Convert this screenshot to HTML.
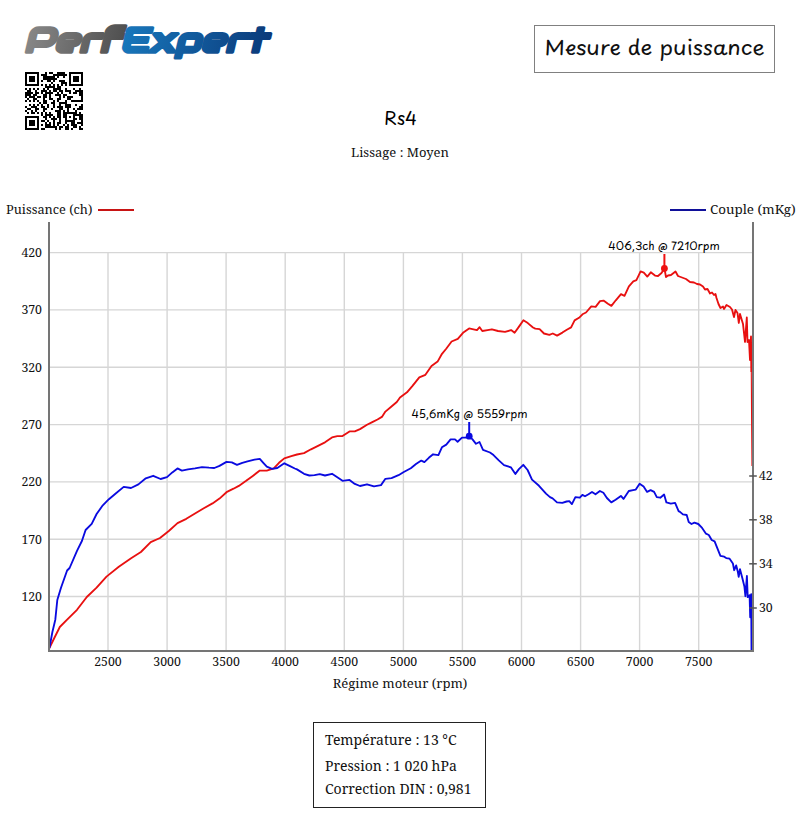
<!DOCTYPE html>
<html><head><meta charset="utf-8"><title>Mesure de puissance</title>
<style>
html,body{margin:0;padding:0;background:#fff;}
body{width:800px;height:833px;overflow:hidden;position:relative;}
.logo{position:absolute;left:0;top:0;}
.logo text{font-family:"Audiowide","Liberation Sans",sans-serif;}
.qr{position:absolute;left:25px;top:72px;}
.tbox{position:absolute;left:534px;top:25px;width:239px;height:46px;border:1px solid #808080;}
.tbox span{position:absolute;left:0;width:239px;top:5.5px;text-align:center;font-family:"Playpen Sans","Liberation Sans",sans-serif;font-size:22.3px;font-weight:400;line-height:30px;color:#111;white-space:nowrap;transform:scaleY(0.9);}
.rs4{position:absolute;left:300.5px;width:200px;top:105.5px;text-align:center;font-family:"Playpen Sans","Liberation Sans",sans-serif;font-size:18px;font-weight:400;line-height:24px;color:#000;}
.chart{position:absolute;left:0;top:0;}
.chart text{font-family:"Noto Serif","DejaVu Serif","Liberation Serif",serif;font-size:12.75px;fill:#111;}
.chart text.n{font-size:12.3px;}
.chart text.ann{font-family:"Playpen Sans","Liberation Sans",sans-serif;font-size:11.3px;font-weight:400;fill:#000;}
.info{position:absolute;left:313px;top:722px;width:171px;height:84px;border:1px solid #222;font-family:"Noto Serif","DejaVu Serif","Liberation Serif",serif;font-size:14px;color:#111;}
.info div{position:absolute;left:11px;white-space:nowrap;line-height:20px;}
</style></head><body>
<svg class="logo" width="300" height="70"><defs><linearGradient id="gp" x1="0" y1="0" x2="84.3" y2="0" gradientUnits="userSpaceOnUse"><stop offset="0" stop-color="#878787"/><stop offset="1" stop-color="#505050"/></linearGradient><linearGradient id="ge" x1="84.3" y1="0" x2="213.6" y2="0" gradientUnits="userSpaceOnUse"><stop offset="0" stop-color="#1877bb"/><stop offset="1" stop-color="#0b3a7a"/></linearGradient></defs><text transform="translate(24,51.6) scale(1.14,1.04) skewX(-12)" font-size="33" stroke-width="3.4" stroke-linejoin="round"><tspan fill="url(#gp)" stroke="url(#gp)">Perf</tspan><tspan fill="url(#ge)" stroke="url(#ge)">Expert</tspan></text></svg>
<svg class="qr" width="58" height="58" viewBox="0 0 29 29" shape-rendering="crispEdges"><path d="M0 0h1v1h-1zM1 0h1v1h-1zM2 0h1v1h-1zM3 0h1v1h-1zM4 0h1v1h-1zM5 0h1v1h-1zM6 0h1v1h-1zM10 0h1v1h-1zM12 0h1v1h-1zM13 0h1v1h-1zM16 0h1v1h-1zM17 0h1v1h-1zM18 0h1v1h-1zM19 0h1v1h-1zM22 0h1v1h-1zM23 0h1v1h-1zM24 0h1v1h-1zM25 0h1v1h-1zM26 0h1v1h-1zM27 0h1v1h-1zM28 0h1v1h-1zM0 1h1v1h-1zM6 1h1v1h-1zM8 1h1v1h-1zM9 1h1v1h-1zM10 1h1v1h-1zM14 1h1v1h-1zM15 1h1v1h-1zM16 1h1v1h-1zM17 1h1v1h-1zM18 1h1v1h-1zM19 1h1v1h-1zM20 1h1v1h-1zM22 1h1v1h-1zM28 1h1v1h-1zM0 2h1v1h-1zM2 2h1v1h-1zM3 2h1v1h-1zM4 2h1v1h-1zM6 2h1v1h-1zM9 2h1v1h-1zM10 2h1v1h-1zM11 2h1v1h-1zM12 2h1v1h-1zM13 2h1v1h-1zM14 2h1v1h-1zM16 2h1v1h-1zM19 2h1v1h-1zM22 2h1v1h-1zM24 2h1v1h-1zM25 2h1v1h-1zM26 2h1v1h-1zM28 2h1v1h-1zM0 3h1v1h-1zM2 3h1v1h-1zM3 3h1v1h-1zM4 3h1v1h-1zM6 3h1v1h-1zM9 3h1v1h-1zM10 3h1v1h-1zM11 3h1v1h-1zM12 3h1v1h-1zM13 3h1v1h-1zM14 3h1v1h-1zM15 3h1v1h-1zM22 3h1v1h-1zM24 3h1v1h-1zM25 3h1v1h-1zM26 3h1v1h-1zM28 3h1v1h-1zM0 4h1v1h-1zM2 4h1v1h-1zM3 4h1v1h-1zM4 4h1v1h-1zM6 4h1v1h-1zM8 4h1v1h-1zM11 4h1v1h-1zM12 4h1v1h-1zM14 4h1v1h-1zM17 4h1v1h-1zM18 4h1v1h-1zM19 4h1v1h-1zM22 4h1v1h-1zM24 4h1v1h-1zM25 4h1v1h-1zM26 4h1v1h-1zM28 4h1v1h-1zM0 5h1v1h-1zM6 5h1v1h-1zM13 5h1v1h-1zM18 5h1v1h-1zM19 5h1v1h-1zM20 5h1v1h-1zM22 5h1v1h-1zM28 5h1v1h-1zM0 6h1v1h-1zM1 6h1v1h-1zM2 6h1v1h-1zM3 6h1v1h-1zM4 6h1v1h-1zM5 6h1v1h-1zM6 6h1v1h-1zM8 6h1v1h-1zM10 6h1v1h-1zM12 6h1v1h-1zM14 6h1v1h-1zM16 6h1v1h-1zM18 6h1v1h-1zM20 6h1v1h-1zM22 6h1v1h-1zM23 6h1v1h-1zM24 6h1v1h-1zM25 6h1v1h-1zM26 6h1v1h-1zM27 6h1v1h-1zM28 6h1v1h-1zM10 7h1v1h-1zM11 7h1v1h-1zM12 7h1v1h-1zM13 7h1v1h-1zM14 7h1v1h-1zM16 7h1v1h-1zM17 7h1v1h-1zM0 8h1v1h-1zM2 8h1v1h-1zM4 8h1v1h-1zM6 8h1v1h-1zM9 8h1v1h-1zM11 8h1v1h-1zM14 8h1v1h-1zM15 8h1v1h-1zM16 8h1v1h-1zM17 8h1v1h-1zM20 8h1v1h-1zM24 8h1v1h-1zM27 8h1v1h-1zM1 9h1v1h-1zM2 9h1v1h-1zM5 9h1v1h-1zM8 9h1v1h-1zM9 9h1v1h-1zM10 9h1v1h-1zM12 9h1v1h-1zM14 9h1v1h-1zM15 9h1v1h-1zM17 9h1v1h-1zM18 9h1v1h-1zM20 9h1v1h-1zM21 9h1v1h-1zM22 9h1v1h-1zM25 9h1v1h-1zM26 9h1v1h-1zM27 9h1v1h-1zM28 9h1v1h-1zM0 10h1v1h-1zM1 10h1v1h-1zM2 10h1v1h-1zM3 10h1v1h-1zM5 10h1v1h-1zM6 10h1v1h-1zM8 10h1v1h-1zM10 10h1v1h-1zM11 10h1v1h-1zM12 10h1v1h-1zM13 10h1v1h-1zM16 10h1v1h-1zM18 10h1v1h-1zM22 10h1v1h-1zM24 10h1v1h-1zM25 10h1v1h-1zM27 10h1v1h-1zM28 10h1v1h-1zM0 11h1v1h-1zM1 11h1v1h-1zM2 11h1v1h-1zM4 11h1v1h-1zM5 11h1v1h-1zM9 11h1v1h-1zM10 11h1v1h-1zM12 11h1v1h-1zM15 11h1v1h-1zM16 11h1v1h-1zM17 11h1v1h-1zM19 11h1v1h-1zM20 11h1v1h-1zM27 11h1v1h-1zM28 11h1v1h-1zM0 12h1v1h-1zM2 12h1v1h-1zM3 12h1v1h-1zM4 12h1v1h-1zM6 12h1v1h-1zM7 12h1v1h-1zM9 12h1v1h-1zM10 12h1v1h-1zM12 12h1v1h-1zM17 12h1v1h-1zM19 12h1v1h-1zM21 12h1v1h-1zM22 12h1v1h-1zM23 12h1v1h-1zM28 12h1v1h-1zM1 13h1v1h-1zM4 13h1v1h-1zM5 13h1v1h-1zM9 13h1v1h-1zM12 13h1v1h-1zM13 13h1v1h-1zM16 13h1v1h-1zM17 13h1v1h-1zM21 13h1v1h-1zM22 13h1v1h-1zM28 13h1v1h-1zM0 14h1v1h-1zM2 14h1v1h-1zM4 14h1v1h-1zM6 14h1v1h-1zM9 14h1v1h-1zM10 14h1v1h-1zM14 14h1v1h-1zM16 14h1v1h-1zM20 14h1v1h-1zM23 14h1v1h-1zM24 14h1v1h-1zM25 14h1v1h-1zM26 14h1v1h-1zM27 14h1v1h-1zM28 14h1v1h-1zM7 15h1v1h-1zM9 15h1v1h-1zM10 15h1v1h-1zM13 15h1v1h-1zM14 15h1v1h-1zM17 15h1v1h-1zM18 15h1v1h-1zM19 15h1v1h-1zM20 15h1v1h-1zM2 16h1v1h-1zM4 16h1v1h-1zM6 16h1v1h-1zM8 16h1v1h-1zM11 16h1v1h-1zM14 16h1v1h-1zM17 16h1v1h-1zM20 16h1v1h-1zM21 16h1v1h-1zM22 16h1v1h-1zM25 16h1v1h-1zM28 16h1v1h-1zM0 17h1v1h-1zM3 17h1v1h-1zM4 17h1v1h-1zM5 17h1v1h-1zM8 17h1v1h-1zM9 17h1v1h-1zM11 17h1v1h-1zM14 17h1v1h-1zM16 17h1v1h-1zM17 17h1v1h-1zM18 17h1v1h-1zM20 17h1v1h-1zM21 17h1v1h-1zM22 17h1v1h-1zM27 17h1v1h-1zM28 17h1v1h-1zM1 18h1v1h-1zM2 18h1v1h-1zM5 18h1v1h-1zM6 18h1v1h-1zM9 18h1v1h-1zM10 18h1v1h-1zM13 18h1v1h-1zM17 18h1v1h-1zM18 18h1v1h-1zM21 18h1v1h-1zM24 18h1v1h-1zM26 18h1v1h-1zM27 18h1v1h-1zM28 18h1v1h-1zM0 19h1v1h-1zM3 19h1v1h-1zM5 19h1v1h-1zM9 19h1v1h-1zM15 19h1v1h-1zM16 19h1v1h-1zM17 19h1v1h-1zM19 19h1v1h-1zM21 19h1v1h-1zM25 19h1v1h-1zM1 20h1v1h-1zM3 20h1v1h-1zM4 20h1v1h-1zM6 20h1v1h-1zM8 20h1v1h-1zM10 20h1v1h-1zM12 20h1v1h-1zM16 20h1v1h-1zM17 20h1v1h-1zM19 20h1v1h-1zM20 20h1v1h-1zM21 20h1v1h-1zM22 20h1v1h-1zM23 20h1v1h-1zM24 20h1v1h-1zM25 20h1v1h-1zM27 20h1v1h-1zM8 21h1v1h-1zM10 21h1v1h-1zM11 21h1v1h-1zM12 21h1v1h-1zM13 21h1v1h-1zM16 21h1v1h-1zM17 21h1v1h-1zM19 21h1v1h-1zM20 21h1v1h-1zM24 21h1v1h-1zM25 21h1v1h-1zM26 21h1v1h-1zM27 21h1v1h-1zM28 21h1v1h-1zM0 22h1v1h-1zM1 22h1v1h-1zM2 22h1v1h-1zM3 22h1v1h-1zM4 22h1v1h-1zM5 22h1v1h-1zM6 22h1v1h-1zM9 22h1v1h-1zM10 22h1v1h-1zM12 22h1v1h-1zM14 22h1v1h-1zM16 22h1v1h-1zM17 22h1v1h-1zM19 22h1v1h-1zM20 22h1v1h-1zM22 22h1v1h-1zM24 22h1v1h-1zM27 22h1v1h-1zM28 22h1v1h-1zM0 23h1v1h-1zM6 23h1v1h-1zM10 23h1v1h-1zM13 23h1v1h-1zM14 23h1v1h-1zM15 23h1v1h-1zM17 23h1v1h-1zM20 23h1v1h-1zM24 23h1v1h-1zM25 23h1v1h-1zM27 23h1v1h-1zM28 23h1v1h-1zM0 24h1v1h-1zM2 24h1v1h-1zM3 24h1v1h-1zM4 24h1v1h-1zM6 24h1v1h-1zM8 24h1v1h-1zM9 24h1v1h-1zM11 24h1v1h-1zM14 24h1v1h-1zM17 24h1v1h-1zM20 24h1v1h-1zM21 24h1v1h-1zM22 24h1v1h-1zM23 24h1v1h-1zM24 24h1v1h-1zM28 24h1v1h-1zM0 25h1v1h-1zM2 25h1v1h-1zM3 25h1v1h-1zM4 25h1v1h-1zM6 25h1v1h-1zM10 25h1v1h-1zM12 25h1v1h-1zM14 25h1v1h-1zM16 25h1v1h-1zM17 25h1v1h-1zM20 25h1v1h-1zM23 25h1v1h-1zM24 25h1v1h-1zM26 25h1v1h-1zM27 25h1v1h-1zM28 25h1v1h-1zM0 26h1v1h-1zM2 26h1v1h-1zM3 26h1v1h-1zM4 26h1v1h-1zM6 26h1v1h-1zM8 26h1v1h-1zM10 26h1v1h-1zM11 26h1v1h-1zM12 26h1v1h-1zM14 26h1v1h-1zM16 26h1v1h-1zM19 26h1v1h-1zM21 26h1v1h-1zM23 26h1v1h-1zM24 26h1v1h-1zM25 26h1v1h-1zM28 26h1v1h-1zM0 27h1v1h-1zM6 27h1v1h-1zM10 27h1v1h-1zM11 27h1v1h-1zM12 27h1v1h-1zM13 27h1v1h-1zM14 27h1v1h-1zM15 27h1v1h-1zM17 27h1v1h-1zM18 27h1v1h-1zM20 27h1v1h-1zM21 27h1v1h-1zM24 27h1v1h-1zM25 27h1v1h-1zM27 27h1v1h-1zM0 28h1v1h-1zM1 28h1v1h-1zM2 28h1v1h-1zM3 28h1v1h-1zM4 28h1v1h-1zM5 28h1v1h-1zM6 28h1v1h-1zM8 28h1v1h-1zM9 28h1v1h-1zM15 28h1v1h-1zM17 28h1v1h-1zM20 28h1v1h-1zM21 28h1v1h-1zM23 28h1v1h-1zM27 28h1v1h-1zM28 28h1v1h-1z" fill="#000"/></svg>
<div class="tbox"><span>Mesure de puissance</span></div>
<div class="rs4">Rs4</div>
<svg class="chart" width="800" height="833" viewBox="0 0 800 833">
<text x="400" y="156.6" text-anchor="middle" style="font-size:13px">Lissage : Moyen</text>
<text x="6" y="213.7">Puissance (ch)</text>
<line x1="98" y1="210" x2="134" y2="210" stroke="#c81414" stroke-width="2"/>
<line x1="670" y1="210" x2="706" y2="210" stroke="#10109a" stroke-width="2"/>
<text x="710" y="213.7" style="font-size:13.4px">Couple (mKg)</text>
<g stroke="#d6d6d6" stroke-width="1.4"><line x1="50" y1="596.5" x2="752" y2="596.5"/><line x1="50" y1="539.2" x2="752" y2="539.2"/><line x1="50" y1="481.9" x2="752" y2="481.9"/><line x1="50" y1="424.6" x2="752" y2="424.6"/><line x1="50" y1="367.2" x2="752" y2="367.2"/><line x1="50" y1="309.9" x2="752" y2="309.9"/><line x1="50" y1="252.6" x2="752" y2="252.6"/><line x1="108.0" y1="252" x2="108.0" y2="650"/><line x1="167.1" y1="252" x2="167.1" y2="650"/><line x1="226.1" y1="252" x2="226.1" y2="650"/><line x1="285.2" y1="252" x2="285.2" y2="650"/><line x1="344.3" y1="252" x2="344.3" y2="650"/><line x1="403.4" y1="252" x2="403.4" y2="650"/><line x1="462.4" y1="252" x2="462.4" y2="650"/><line x1="521.5" y1="252" x2="521.5" y2="650"/><line x1="580.6" y1="252" x2="580.6" y2="650"/><line x1="639.6" y1="252" x2="639.6" y2="650"/><line x1="698.7" y1="252" x2="698.7" y2="650"/></g>
<g class="nums"><text x="42" y="600.9" text-anchor="end" class="n">120</text><text x="42" y="543.6" text-anchor="end" class="n">170</text><text x="42" y="486.3" text-anchor="end" class="n">220</text><text x="42" y="429.0" text-anchor="end" class="n">270</text><text x="42" y="371.6" text-anchor="end" class="n">320</text><text x="42" y="314.3" text-anchor="end" class="n">370</text><text x="42" y="257.0" text-anchor="end" class="n">420</text><text x="108.0" y="666.2" text-anchor="middle" class="n">2500</text><text x="167.1" y="666.2" text-anchor="middle" class="n">3000</text><text x="226.1" y="666.2" text-anchor="middle" class="n">3500</text><text x="285.2" y="666.2" text-anchor="middle" class="n">4000</text><text x="344.3" y="666.2" text-anchor="middle" class="n">4500</text><text x="403.4" y="666.2" text-anchor="middle" class="n">5000</text><text x="462.4" y="666.2" text-anchor="middle" class="n">5500</text><text x="521.5" y="666.2" text-anchor="middle" class="n">6000</text><text x="580.6" y="666.2" text-anchor="middle" class="n">6500</text><text x="639.6" y="666.2" text-anchor="middle" class="n">7000</text><text x="698.7" y="666.2" text-anchor="middle" class="n">7500</text><text x="759" y="480.0" class="n">42</text><text x="759" y="523.8" class="n">38</text><text x="759" y="567.8" class="n">34</text><text x="759" y="612.0" class="n">30</text></g>
<text x="400" y="688" text-anchor="middle" style="font-size:13.1px">Régime moteur (rpm)</text>
<path d="M49.4 648.0L54.8 637.0L59.8 627.0L67.1 619.7L77.0 609.8L86.8 597.0L96.6 587.7L106.5 576.6L118.8 566.8L131.1 558.2L140.9 552.0L150.7 542.2L160.0 538.0L168.8 531.0L177.5 523.1L186.3 518.8L195.0 513.5L203.8 508.3L212.5 503.4L219.5 498.6L226.5 492.2L233.5 488.7L238.8 485.9L245.8 481.1L252.8 475.9L259.8 470.6L266.8 470.6L273.8 468.4L279.0 462.8L284.3 458.4L291.3 456.1L297.0 454.5L304.0 453.1L311.0 449.3L318.0 445.8L325.0 442.3L332.0 437.4L337.3 436.1L342.5 436.1L349.5 431.4L354.8 431.4L360.0 429.1L367.0 424.8L372.3 422.1L377.5 419.5L381.9 416.9L385.4 411.6L390.6 407.3L396.8 402.0L400.0 397.5L407.0 392.3L412.3 386.1L419.3 377.4L425.4 374.8L431.5 366.0L437.6 361.6L442.0 353.8L446.4 348.5L451.6 341.5L457.8 338.9L463.0 332.8L469.1 328.4L473.5 329.3L477.0 330.1L479.6 327.2L482.3 331.0L487.5 330.1L491.9 329.3L498.0 331.0L505.0 331.9L511.1 330.1L514.6 332.8L519.0 326.6L523.4 320.2L527.8 323.1L533.0 327.5L535.3 328.6L539.6 329.1L544.0 333.5L549.3 334.9L552.8 333.5L557.1 335.6L562.4 332.6L566.8 329.7L571.1 327.4L574.6 320.4L579.0 317.8L582.5 314.3L586.0 312.5L591.3 306.4L595.6 306.9L600.0 301.1L603.5 300.6L607.9 303.8L611.4 305.9L615.8 300.3L621.0 294.1L624.5 295.9L628.9 286.3L633.3 281.4L636.4 280.1L640.6 271.4L643.8 272.6L647.3 276.6L650.8 272.3L655.0 275.6L658.0 276.0L661.5 273.0L664.4 268.4L666.0 277.0L668.0 275.5L671.0 275.0L675.5 271.5L678.0 276.0L682.0 277.5L686.0 279.0L690.0 282.0L694.0 282.5L697.0 284.0L700.0 284.5L703.0 286.5L705.0 289.5L707.5 289.0L710.0 293.5L712.0 292.5L714.0 295.0L715.5 294.0L716.5 298.0L718.5 304.0L720.5 308.0L723.0 306.5L724.0 309.0L726.5 305.0L730.0 307.0L732.0 309.5L734.0 317.0L735.5 310.0L737.5 313.0L738.8 323.0L740.0 314.0L743.0 324.0L745.0 342.0L746.8 317.5L747.5 342.0L749.0 340.0L750.0 360.0L751.0 336.5L751.3 372.0" fill="none" stroke="#e81010" stroke-width="1.85" stroke-linejoin="round"/>
<path d="M751.3 372.0L751.6 420.0L752.0 466.0" fill="none" stroke="#e81010" stroke-width="1.1"/>
<path d="M49.4 648.0L52.4 632.0L55.3 619.7L57.3 600.0L61.0 587.7L67.1 570.5L69.6 568.0L77.0 550.8L81.9 541.0L85.6 530.0L91.7 523.8L96.6 514.0L102.8 505.3L108.9 499.2L116.3 493.0L123.7 486.9L131.0 488.0L138.4 484.4L145.8 478.3L153.2 475.8L160.6 479.0L167.0 477.1L172.3 472.4L177.5 468.4L181.9 470.6L188.0 469.4L195.0 468.4L202.0 467.1L209.0 467.7L214.3 468.0L219.5 465.9L226.5 461.9L231.8 462.4L237.0 464.9L242.3 462.8L247.5 461.4L254.5 459.6L259.8 458.9L263.3 462.8L266.8 466.6L272.0 468.9L277.3 468.0L284.3 463.3L289.5 465.9L294.8 468.5L297.0 469.4L304.0 473.8L309.3 475.5L314.5 475.2L319.8 474.1L325.0 475.5L332.0 473.8L337.3 477.3L342.5 480.8L349.5 479.9L354.8 483.9L360.0 486.0L367.0 484.3L374.0 486.4L381.0 485.1L385.4 478.8L391.5 478.1L398.5 475.2L403.8 472.0L410.8 468.2L416.0 464.1L421.3 460.6L424.4 462.1L428.8 457.8L433.1 454.3L438.4 455.1L441.9 447.3L446.3 444.6L450.6 439.4L455.0 439.4L457.6 441.7L462.0 437.6L466.4 437.6L469.2 436.2L472.5 439.4L476.0 443.8L479.5 442.0L483.0 449.9L490.0 452.5L493.5 455.1L498.8 460.4L504.0 465.1L511.0 467.4L515.4 473.9L518.9 469.1L523.3 464.8L527.6 470.0L532.0 479.6L539.0 485.8L546.0 493.6L550.0 497.1L552.6 498.4L557.0 502.4L562.3 502.9L566.6 501.5L569.3 501.2L571.9 504.1L575.4 497.1L579.8 497.7L582.4 494.9L585.0 496.3L588.5 494.2L592.0 491.9L595.5 494.2L599.9 491.0L603.4 492.8L606.9 498.0L611.3 502.4L615.6 499.8L620.9 495.9L623.5 498.9L628.8 491.0L633.1 490.1L635.8 489.6L639.6 483.7L643.6 486.6L647.1 491.9L650.6 490.1L654.1 491.9L656.8 497.1L660.3 497.7L664.1 494.5L666.4 502.4L670.8 503.6L675.1 502.9L678.6 511.1L680.0 511.9L682.9 514.4L686.7 515.0L688.7 522.1L691.5 524.0L694.4 522.7L698.3 524.0L702.1 527.9L706.0 533.7L708.8 535.0L711.7 540.0L714.6 541.3L716.5 546.2L720.4 555.8L724.2 556.7L726.2 558.1L729.6 558.7L732.9 563.5L734.2 570.2L736.2 565.4L737.7 571.2L738.7 576.9L740.0 569.2L742.5 578.8L744.4 586.5L745.4 596.2L746.9 576.0L747.7 597.1L749.6 595.2L750.2 617.3L751.2 594.2L751.5 651.0" fill="none" stroke="#0a0ae0" stroke-width="1.85" stroke-linejoin="round"/>
<line x1="664.4" y1="254" x2="664.4" y2="268" stroke="#ee1111" stroke-width="2"/>
<circle cx="664.4" cy="268.4" r="3.4" fill="#ee1111"/>
<line x1="469.2" y1="422" x2="469.2" y2="436" stroke="#0a0ae0" stroke-width="2"/>
<circle cx="469.2" cy="436.2" r="3.4" fill="#0a0ae0"/>
<text class="ann" x="664" y="249.8" text-anchor="middle">406,3ch @ 7210rpm</text>
<text class="ann" x="469.5" y="417.5" text-anchor="middle">45,6mKg @ 5559rpm</text>
<g stroke="#757575" stroke-width="2" fill="none">
<line x1="49" y1="222" x2="49" y2="652"/>
<line x1="753" y1="222" x2="753" y2="652"/>
<line x1="48" y1="651" x2="754" y2="651"/>
</g>
<g stroke="#555" stroke-width="1.5"><line x1="749.2" y1="476" x2="756.8" y2="476"/><line x1="749.2" y1="519.8" x2="756.8" y2="519.8"/><line x1="749.2" y1="563.8" x2="756.8" y2="563.8"/><line x1="749.2" y1="608" x2="756.8" y2="608"/></g>
</svg>
<div class="info"><div style="top:7.3px">Température : 13 °C</div><div style="top:33.3px">Pression : 1 020 hPa</div><div style="top:56.3px">Correction DIN : 0,981</div></div>
</body></html>
